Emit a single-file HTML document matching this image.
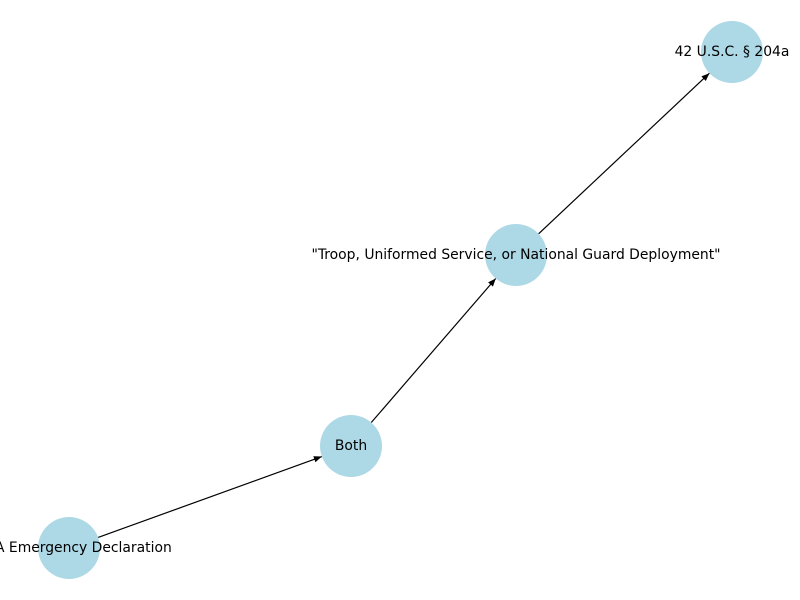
<!DOCTYPE html>
<html><head><meta charset="utf-8"><style>body{margin:0;background:#fff}svg{display:block}</style></head>
<body>
<svg id="g" width="800" height="600"></svg>
<script>
const nodeLabels = ["FEMA Emergency Declaration", "Both", "\"Troop, Uniformed Service, or National Guard Deployment\"", "42 U.S.C. § 204a"];
const nodeX = [69, 351, 516, 732];
const nodeY = [548, 446, 255, 52];
const edgeFrom = [0, 1, 2];
const edgeTo = [1, 2, 3];
const NS = "http://www.w3.org/2000/svg";
const svg = document.getElementById('g');
const R = 31;
const defs = document.createElementNS(NS, 'defs');
defs.innerHTML = '<marker id="ah" viewBox="0 0 10 10" refX="10" refY="5" markerWidth="8" markerHeight="8" orient="auto" markerUnits="userSpaceOnUse"><path d="M0,1 L10,5 L0,9 z" fill="#000"/></marker>';
svg.appendChild(defs);
for (let i = 0; i < edgeFrom.length; i++) {
  const a = edgeFrom[i], b = edgeTo[i];
  const dx = nodeX[b] - nodeX[a], dy = nodeY[b] - nodeY[a];
  const L = Math.hypot(dx, dy), ux = dx / L, uy = dy / L;
  const ln = document.createElementNS(NS, 'line');
  ln.setAttribute('x1', nodeX[a] + ux * R); ln.setAttribute('y1', nodeY[a] + uy * R);
  ln.setAttribute('x2', nodeX[b] - ux * R); ln.setAttribute('y2', nodeY[b] - uy * R);
  ln.setAttribute('stroke', '#000'); ln.setAttribute('stroke-width', '1.2');
  ln.setAttribute('marker-end', 'url(#ah)');
  
  
  svg.appendChild(ln);
}
for (let i = 0; i < nodeLabels.length; i++) {
  const c = document.createElementNS(NS, 'circle');
  c.setAttribute('cx', nodeX[i]); c.setAttribute('cy', nodeY[i]); c.setAttribute('r', R);
  c.setAttribute('fill', '#add8e6');
  
  
  svg.appendChild(c);
}
for (let i = 0; i < nodeLabels.length; i++) {
  const t = document.createElementNS(NS, 'text');
  t.setAttribute('x', nodeX[i]); t.setAttribute('y', nodeY[i] + 4);
  t.setAttribute('text-anchor', 'middle');
  t.setAttribute('font-family', '"DejaVu Sans", "Liberation Sans", sans-serif');
  t.setAttribute('font-size', '13.9');
  t.textContent = nodeLabels[i];
  
  
  svg.appendChild(t);
}
</script>
</body></html>
